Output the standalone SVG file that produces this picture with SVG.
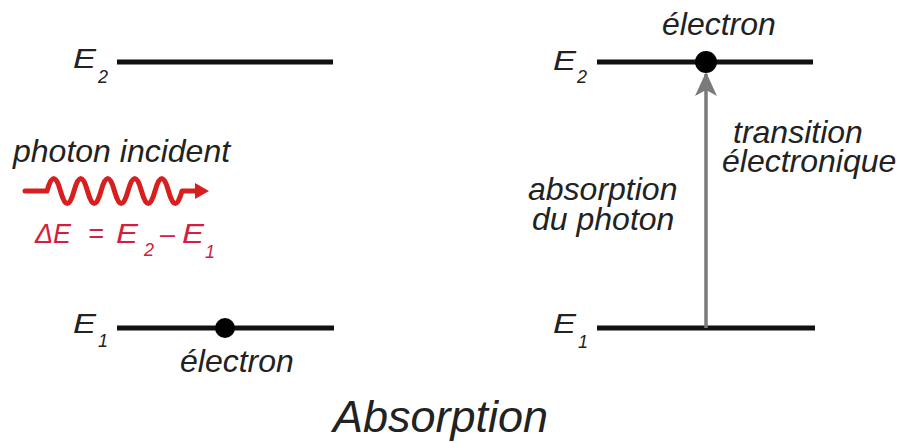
<svg xmlns="http://www.w3.org/2000/svg" width="903" height="443" viewBox="0 0 903 443">
  <style>
    text { font-family: "Liberation Sans", Arial, sans-serif; font-style: italic; fill: #222; }
    .lbl { font-size: 32px; }
    .E { font-size: 27px; }
    .sub { font-size: 18px; }
    .red { fill: #d3203f; }
    .level { stroke: #111; stroke-width: 5; fill: none; }
    .dot { fill: #000; }
    .title { font-size: 45px; }
  </style>
  <defs>
    <marker id="grayHead" viewBox="0 0 24 22" refX="22" refY="11" markerWidth="24" markerHeight="22" markerUnits="userSpaceOnUse" orient="auto">
      <path d="M0,0 L24,11 L0,22 L6,11 Z" fill="#7a7a7a"/>
    </marker>
  </defs>
  <rect width="903" height="443" fill="#fff"/>

  <g id="left-E2">
    <line class="level" x1="117" y1="62" x2="333" y2="62"/>
    <text class="E" x="73" y="68" textLength="23" lengthAdjust="spacingAndGlyphs">E</text>
    <text class="sub" x="98" y="83">2</text>
  </g>

  <g id="left-E1">
    <line class="level" x1="117" y1="328" x2="334" y2="328"/>
    <circle class="dot" cx="225" cy="328" r="10"/>
    <text class="E" x="73" y="333" textLength="23" lengthAdjust="spacingAndGlyphs">E</text>
    <text class="sub" x="98" y="347">1</text>
    <text class="lbl" x="180" y="372">électron</text>
  </g>

  <g id="photon">
    <text class="lbl" x="13" y="162">photon incident</text>
    <path d="M25,191 H47 Q53.75,166 60.5,191 T74,191 T87.5,191 T101,191 T114.5,191 T128,191 T141.5,191 T155,191 T168.5,191 T182,191 H199" fill="none" stroke="#d81e1e" stroke-width="5" stroke-linecap="round" stroke-linejoin="round"/>
    <polygon points="195,183 209,191 195,199" fill="#d81e1e"/>
    <text class="E red" x="35" y="243">ΔE</text>
    <text class="E red" x="88" y="243">=</text>
    <text class="E red" x="116" y="243" textLength="22" lengthAdjust="spacingAndGlyphs">E</text>
    <text class="sub red" x="144" y="256">2</text>
    <text class="E red" x="160" y="243">–</text>
    <text class="E red" x="182" y="243" textLength="22" lengthAdjust="spacingAndGlyphs">E</text>
    <text class="sub red" x="205" y="258">1</text>
  </g>

  <g id="right-E2">
    <line class="level" x1="597" y1="62" x2="813" y2="62"/>
    <text class="E" x="553" y="70" textLength="23" lengthAdjust="spacingAndGlyphs">E</text>
    <text class="sub" x="577" y="83">2</text>
    <text class="lbl" x="662" y="35">électron</text>
  </g>

  <g id="right-E1">
    <line class="level" x1="597" y1="328" x2="815" y2="328"/>
    <text class="E" x="553" y="333" textLength="23" lengthAdjust="spacingAndGlyphs">E</text>
    <text class="sub" x="578" y="348">1</text>
  </g>

  <g id="connectors">
    <line x1="706" y1="328" x2="706" y2="74" stroke="#7a7a7a" stroke-width="3.5" marker-end="url(#grayHead)"/>
  </g>

  <g id="right-dot">
    <circle class="dot" cx="706" cy="62" r="11"/>
  </g>

  <g id="labels">
    <text class="lbl" x="733" y="143">transition</text>
    <text class="lbl" x="722" y="172">électronique</text>
    <text class="lbl" x="528" y="200">absorption</text>
    <text class="lbl" x="532" y="230">du photon</text>
  </g>

  <g id="title">
    <text class="title" x="333" y="432">Absorption</text>
  </g>
</svg>
